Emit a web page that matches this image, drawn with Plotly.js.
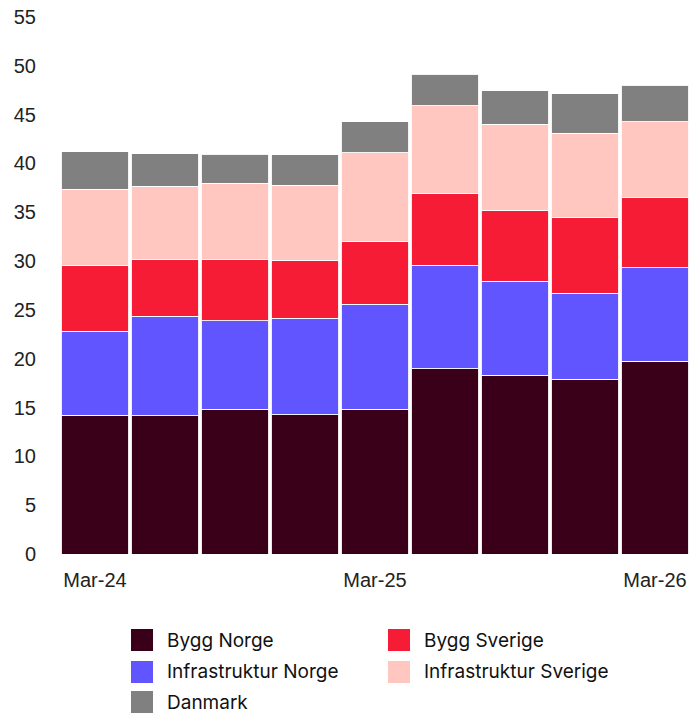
<!DOCTYPE html>
<html>
<head>
<meta charset="utf-8">
<script src="https://cdn.plot.ly/plotly-3.0.1.min.js"></script>
<style>
html,body{margin:0;padding:0;background:#fff;}
#chart{width:692px;height:715px;}
</style>
</head>
<body>
<div id="chart"></div>
<script>
const categories = ["Mar-24","Jun-24","Sep-24","Dec-24","Mar-25","Jun-25","Sep-25","Dec-25","Mar-26"];
const tickLabels = ["Mar-24","Mar-25","Mar-26"];

const byggNorge = [14.2, 14.15, 14.85, 14.25, 14.85, 18.95, 18.3, 17.9, 19.75];
const infraNorge = [8.6, 10.2, 9.05, 9.9, 10.75, 10.6, 9.65, 8.8, 9.55];
const byggSverige = [6.75, 5.85, 6.25, 5.95, 6.45, 7.35, 7.25, 7.8, 7.2];
const infraSverige = [7.8, 7.45, 7.8, 7.65, 9.05, 9.0, 8.8, 8.6, 7.75];
const danmark = [3.85, 3.35, 3.0, 3.15, 3.15, 3.25, 3.45, 4.05, 3.75];

const seriesNames = ["Bygg Norge","Infrastruktur Norge","Bygg Sverige","Infrastruktur Sverige","Danmark"];
const seriesValues = [byggNorge, infraNorge, byggSverige, infraSverige, danmark];
const seriesColors = ["#3a0019","#6155ff","#f61c35","#ffc7bf","#808080"];

const traces = seriesNames.map((name, i) => ({
  type: "bar",
  name: name,
  x: categories,
  y: seriesValues[i],
  marker: {color: seriesColors[i], line: {color: "rgba(255,255,255,0.9)", width: 1}},
  showlegend: false,
  hoverinfo: "x+y+name"
}));

// Manual legend (paper coords), order: row-wise two columns
const legendOrder = [0, 2, 1, 3, 4];
const plotLeft = 60, plotW = 630, plotBottom = 554, plotH = 537;
const px2x = p => (p - plotLeft) / plotW;
const px2y = p => (plotBottom - p) / plotH;
const colSwatch = [131, 388];
const rowCenter = [640, 672, 702];
const shapes = [];
const annotations = [];
legendOrder.forEach((si, k) => {
  const col = k % 2, row = Math.floor(k / 2);
  const sx = colSwatch[col], cy = rowCenter[row];
  shapes.push({
    type: "rect", xref: "paper", yref: "paper",
    x0: px2x(sx), x1: px2x(sx + 22), y0: px2y(cy + 11), y1: px2y(cy - 11),
    fillcolor: seriesColors[si], line: {width: 0}
  });
  annotations.push({
    xref: "paper", yref: "paper", x: px2x(sx + 34), y: px2y(cy),
    xanchor: "left", yanchor: "middle", showarrow: false,
    text: seriesNames[si],
    font: {family: "Inter, 'Liberation Sans', sans-serif", size: 19, color: "#111"}
  });
});

const layout = {
  width: 692, height: 715,
  margin: {l: 60, r: 2, t: 17, b: 161},
  paper_bgcolor: "#fff", plot_bgcolor: "#fff",
  barmode: "stack",
  bargap: 0.04,
  showlegend: false,
  font: {family: "'Liberation Sans', Arial, sans-serif", size: 20, color: "#222"},
  xaxis: {
    type: "category",
    tickmode: "array",
    tickvals: tickLabels,
    ticktext: tickLabels,
    ticks: "outside", ticklen: 8, tickcolor: "rgba(0,0,0,0)",
    showgrid: false, zeroline: false, showline: false,
    tickfont: {size: 20, color: "#222"}
  },
  yaxis: {
    range: [0, 55],
    tickmode: "linear", tick0: 0, dtick: 5,
    showgrid: false, zeroline: false, showline: false,
    ticks: "outside", ticklen: 19, tickcolor: "rgba(0,0,0,0)",
    tickfont: {size: 20, color: "#222"}
  },
  shapes: shapes,
  annotations: annotations
};

Plotly.newPlot("chart", traces, layout, {displayModeBar: false, staticPlot: true});
</script>
</body>
</html>
